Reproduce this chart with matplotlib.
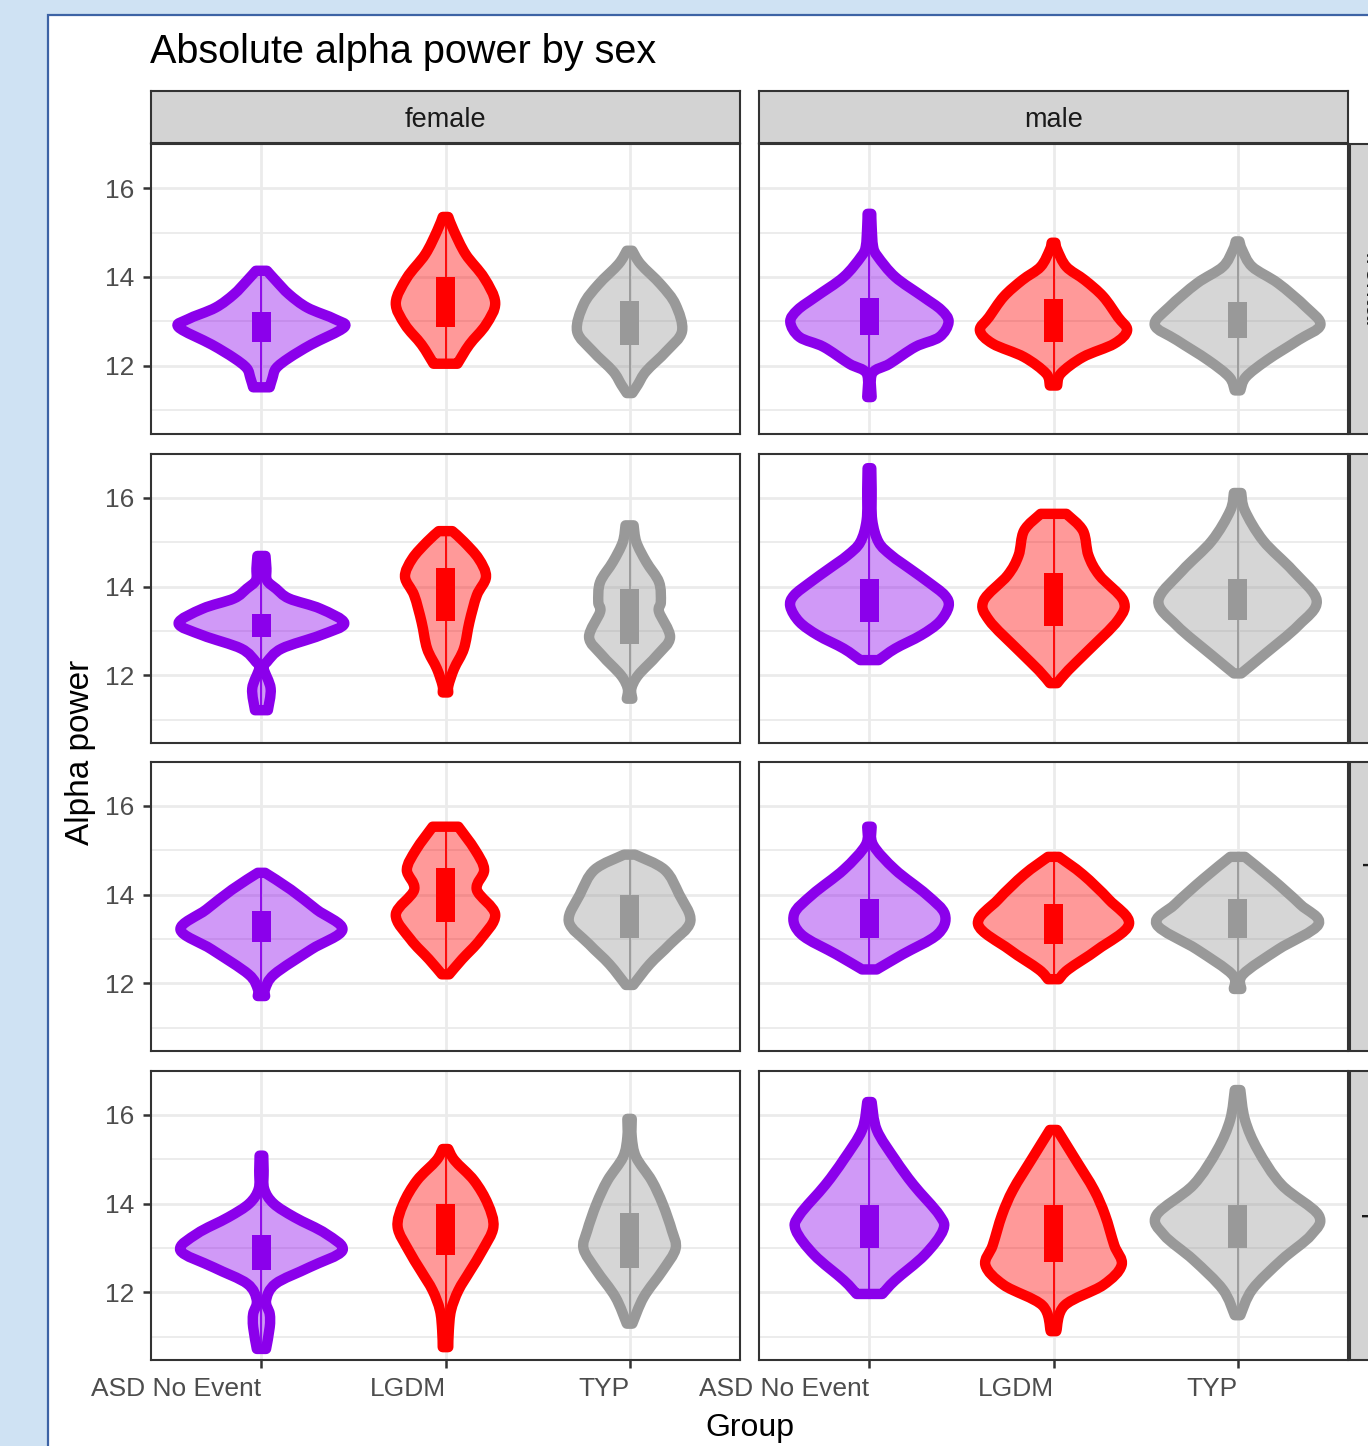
import matplotlib.pyplot as plt
import numpy as np
from matplotlib.colors import to_rgba
from matplotlib.patches import PathPatch, Rectangle
from matplotlib.path import Path

plt.rcParams["font.family"] = ["Liberation Sans", "DejaVu Sans"]

W, H = 1368, 1446  # output size in pixels (dpi 100)

groups = ["ASD No Event", "LGDM", "TYP"]
sexes = ["female", "male"]
rows = ["frontal", "central", "parietal", "occipital"]
group_colors = ["#8B00EB", "#FF0000", "#999999"]
y_ticks = [12, 14, 16]
y_minor = [11, 13, 15]

# violin outlines: y levels and half widths (x units)
r1_female_y = [[11.52, 11.73, 11.95, 12.18, 12.48, 12.87, 13.05, 13.31, 13.61, 13.91, 14.14],
               [12.05, 12.48, 12.93, 13.42, 13.98, 14.51, 15.04, 15.35],
               [11.39, 11.58, 11.88, 12.33, 12.78, 13.38, 13.83, 14.29, 14.59]]
r1_female_w = [[0.045, 0.06, 0.08, 0.15, 0.27, 0.45, 0.40, 0.25, 0.15, 0.08, 0.03],
               [0.065, 0.13, 0.22, 0.27, 0.21, 0.11, 0.045, 0.015],
               [0.015, 0.045, 0.09, 0.20, 0.285, 0.25, 0.17, 0.06, 0.015]]
r1_female_box = [(12.53, 13.22), (12.87, 14.0), (12.48, 13.47)]

r1_male_y = [[11.3, 11.83, 12.05, 12.43, 12.65, 12.99, 13.26, 13.56, 14.0, 14.46, 14.68, 15.14, 15.42],
             [11.56, 11.83, 12.2, 12.5, 12.8, 13.1, 13.56, 13.93, 14.23, 14.61, 14.77],
             [11.45, 11.75, 12.13, 12.58, 12.92, 13.33, 13.86, 14.23, 14.61, 14.8]]
r1_male_w = [[0.012, 0.015, 0.11, 0.25, 0.38, 0.43, 0.39, 0.29, 0.14, 0.045, 0.02, 0.012, 0.01],
             [0.02, 0.04, 0.16, 0.33, 0.40, 0.35, 0.27, 0.17, 0.07, 0.02, 0.01],
             [0.015, 0.045, 0.16, 0.33, 0.45, 0.37, 0.22, 0.08, 0.025, 0.01]]
r1_male_box = [(12.69, 13.52), (12.53, 13.5), (12.62, 13.44)]

r2_female_y = [[11.21, 11.7, 12.15, 12.3, 12.6, 12.9, 13.17, 13.5, 13.73, 13.95, 14.14, 14.41, 14.69],
               [11.61, 11.77, 12.15, 12.6, 13.2, 13.8, 14.22, 14.63, 15.01, 15.25],
               [11.47, 11.7, 12.0, 12.45, 12.86, 13.43, 13.65, 14.1, 14.56, 15.0, 15.38]]
r2_female_w = [[0.035, 0.05, 0.012, 0.03, 0.11, 0.32, 0.45, 0.32, 0.15, 0.08, 0.03, 0.027, 0.022],
               [0.015, 0.016, 0.047, 0.10, 0.13, 0.17, 0.22, 0.18, 0.10, 0.037],
               [0.015, 0.01, 0.047, 0.15, 0.22, 0.16, 0.17, 0.16, 0.09, 0.037, 0.022]]
r2_female_box = [(12.86, 13.39), (13.22, 14.41), (12.71, 13.95)]

r2_male_y = [[12.34, 12.6, 12.9, 13.2, 13.55, 13.8, 14.1, 14.4, 14.7, 15.0, 15.5, 16.2, 16.67],
             [11.82, 12.11, 12.56, 13.24, 13.68, 14.25, 14.7, 15.26, 15.64],
             [12.04, 12.45, 13.12, 13.68, 14.36, 15.03, 15.71, 16.11]]
r2_male_w = [[0.05, 0.14, 0.28, 0.38, 0.43, 0.41, 0.32, 0.22, 0.12, 0.05, 0.015, 0.012, 0.01],
             [0.02, 0.08, 0.19, 0.35, 0.38, 0.25, 0.19, 0.16, 0.07],
             [0.02, 0.14, 0.33, 0.43, 0.30, 0.14, 0.04, 0.02]]
r2_male_box = [(13.19, 14.18), (13.12, 14.31), (13.24, 14.18)]

r3_female_y = [[11.71, 11.87, 12.2, 12.76, 13.21, 13.66, 14.11, 14.49],
               [12.2, 12.54, 12.99, 13.55, 14.11, 14.56, 15.01, 15.53],
               [11.96, 12.43, 12.88, 13.39, 14.0, 14.56, 14.9]]
r3_female_w = [[0.02, 0.02, 0.07, 0.27, 0.44, 0.30, 0.16, 0.02],
               [0.02, 0.09, 0.19, 0.27, 0.17, 0.21, 0.16, 0.07],
               [0.02, 0.11, 0.22, 0.33, 0.27, 0.19, 0.03]]
r3_female_box = [(12.94, 13.62), (13.39, 14.6), (13.03, 13.98)]

r3_male_y = [[12.31, 12.65, 13.1, 13.55, 14.0, 14.56, 15.12, 15.53],
             [12.09, 12.31, 12.76, 13.33, 13.89, 14.45, 14.85],
             [11.87, 12.2, 12.76, 13.33, 13.78, 14.34, 14.85]]
r3_male_w = [[0.04, 0.18, 0.37, 0.41, 0.31, 0.14, 0.02, 0.012],
             [0.03, 0.08, 0.24, 0.41, 0.30, 0.16, 0.03],
             [0.02, 0.03, 0.22, 0.44, 0.34, 0.19, 0.04]]
r3_male_box = [(13.03, 13.89), (12.88, 13.78), (13.03, 13.89)]

r4_female_y = [[10.72, 11.21, 11.51, 11.81, 12.19, 12.56, 12.94, 13.32, 13.69, 14.0, 14.33, 14.74, 15.08],
               [10.76, 11.14, 11.59, 12.04, 12.49, 12.94, 13.47, 13.99, 14.52, 14.97, 15.23],
               [11.29, 11.89, 12.49, 12.98, 13.39, 13.99, 14.52, 15.05, 15.5, 15.91]]
r4_female_w = [[0.025, 0.045, 0.045, 0.025, 0.077, 0.26, 0.44, 0.35, 0.18, 0.066, 0.015, 0.012, 0.01],
               [0.015, 0.018, 0.03, 0.07, 0.135, 0.20, 0.26, 0.23, 0.155, 0.05, 0.015],
               [0.015, 0.077, 0.18, 0.25, 0.23, 0.18, 0.12, 0.035, 0.012, 0.012]]
r4_female_box = [(12.5, 13.28), (12.85, 13.99), (12.54, 13.78)]

r4_male_y = [[11.96, 12.27, 12.84, 13.4, 13.74, 14.42, 14.99, 15.66, 16.29],
             [11.12, 11.7, 12.16, 12.61, 13.06, 13.74, 14.31, 14.99, 15.66],
             [11.48, 12.06, 12.73, 13.29, 13.74, 14.42, 15.21, 15.89, 16.56]]
r4_male_w = [[0.07, 0.14, 0.30, 0.40, 0.38, 0.24, 0.14, 0.04, 0.012],
             [0.015, 0.06, 0.27, 0.37, 0.33, 0.28, 0.22, 0.12, 0.02],
             [0.015, 0.08, 0.24, 0.40, 0.44, 0.24, 0.11, 0.04, 0.015]]
r4_male_box = [(12.99, 13.96), (12.67, 13.96), (12.99, 13.96)]

panels = {
    (0, 0): (r1_female_y, r1_female_w, r1_female_box),
    (0, 1): (r1_male_y, r1_male_w, r1_male_box),
    (1, 0): (r2_female_y, r2_female_w, r2_female_box),
    (1, 1): (r2_male_y, r2_male_w, r2_male_box),
    (2, 0): (r3_female_y, r3_female_w, r3_female_box),
    (2, 1): (r3_male_y, r3_male_w, r3_male_box),
    (3, 0): (r4_female_y, r4_female_w, r4_female_box),
    (3, 1): (r4_male_y, r4_male_w, r4_male_box),
}

# layout in pixels
col_x = [(151, 740), (759, 1348)]
row_y = [(144, 434), (454, 743), (762, 1051), (1071, 1360)]
strip_top = (91, 143)
strip_right = (1350, 1402)


def px_rect(x0, y0, x1, y1):
    return [x0 / W, 1 - y1 / H, (x1 - x0) / W, (y1 - y0) / H]


def smooth_side(pts, verts, codes, start):
    """Append a Catmull-Rom style bezier through pts to verts/codes."""
    P = np.asarray(pts, dtype=float)
    n = len(P)
    verts.append(P[0])
    codes.append(Path.MOVETO if start else Path.LINETO)
    for i in range(n - 1):
        p0 = P[max(i - 1, 0)]
        p1 = P[i]
        p2 = P[i + 1]
        p3 = P[min(i + 2, n - 1)]
        verts += [p1 + (p2 - p0) / 6, p2 - (p3 - p1) / 6, p2]
        codes += [Path.CURVE4] * 3


def violin_path(xc, ys, ws):
    right = [(xc + w, y) for y, w in zip(ys, ws)]
    left = [(xc - w, y) for y, w in zip(ys, ws)][::-1]
    verts, codes = [], []
    smooth_side(right, verts, codes, True)
    smooth_side(left, verts, codes, False)
    verts.append(right[0])
    codes.append(Path.CLOSEPOLY)
    return Path(verts, codes)


fig = plt.figure(figsize=(W / 100, H / 100), dpi=100, facecolor="#CFE2F3")
fig.add_artist(Rectangle((48 / W, -0.05), 1.2, 1.05 - 15 / H, transform=fig.transFigure,
                         facecolor="white", edgecolor="#3D63A5", lw=1.6, zorder=0))

fig.text(150 / W, 1 - 63 / H, "Absolute alpha power by sex", fontsize=28.5,
         color="black", ha="left", va="baseline")

for r in range(4):
    for c in range(2):
        ax = fig.add_axes(px_rect(col_x[c][0], row_y[r][0], col_x[c][1], row_y[r][1]))
        ax.set_xlim(0.4, 3.6)
        ax.set_ylim(10.47, 16.99)
        ax.set_xticks([1, 2, 3])
        ax.set_xticklabels(groups)
        ax.set_yticks(y_ticks)
        ax.set_yticklabels([str(t) for t in y_ticks])
        ax.set_yticks(y_minor, minor=True)
        ax.set_axisbelow(True)
        ax.grid(which="major", color="#EBEBEB", lw=2.0)
        ax.grid(which="minor", axis="y", color="#EBEBEB", lw=1.3)
        ax.tick_params(which="minor", length=0)
        ax.tick_params(which="major", length=6, width=1.8, color="#333333",
                       labelsize=19, labelcolor="#4D4D4D")
        ax.tick_params(axis="y", pad=6)
        ax.tick_params(axis="x", pad=6)
        for lab in ax.get_xticklabels():
            lab.set_horizontalalignment("right")
        if c == 1:
            ax.tick_params(axis="y", left=False, labelleft=False)
        if r < 3:
            ax.tick_params(axis="x", bottom=False, labelbottom=False)
        for sp in ax.spines.values():
            sp.set_color("#333333")
            sp.set_linewidth(1.5)

        ys_all, ws_all, boxes = panels[(r, c)]
        for g in range(3):
            xc = g + 1
            col = group_colors[g]
            ys, ws = ys_all[g], ws_all[g]
            ax.add_patch(PathPatch(violin_path(xc, ys, ws), facecolor=to_rgba(col, 0.4),
                                   edgecolor=col, lw=7.5, joinstyle="round",
                                   capstyle="round", zorder=2))
            ax.plot([xc, xc], [min(ys), max(ys)], color=col, lw=1.3, zorder=3)
            q1, q3 = boxes[g]
            ax.add_patch(Rectangle((xc - 0.05, q1), 0.1, q3 - q1, facecolor=col,
                                   edgecolor="none", zorder=4))

# facet strips
for c, sex in enumerate(sexes):
    sax = fig.add_axes(px_rect(col_x[c][0], strip_top[0], col_x[c][1], strip_top[1]))
    sax.set_facecolor("#D3D3D3")
    sax.set_xticks([])
    sax.set_yticks([])
    for sp in sax.spines.values():
        sp.set_color("#333333")
        sp.set_linewidth(1.5)
    sax.text(0.5, 0.44, sex, transform=sax.transAxes, ha="center", va="center",
             fontsize=19.5, color="#1A1A1A")

# row strips, cut off by the right edge as in the screenshot
for r, name in enumerate(rows):
    x0, x1 = strip_right
    y0, y1 = row_y[r]
    fig.add_artist(Rectangle((x0 / W, 1 - y1 / H), (x1 - x0) / W, (y1 - y0) / H,
                             transform=fig.transFigure, facecolor="#D3D3D3",
                             edgecolor="#333333", lw=1.5))
    fig.text((x0 + 23) / W, 1 - (y0 + y1) / 2 / H, name, rotation=-90, fontsize=19.5,
             color="#1A1A1A", ha="center", va="center")

fig.text(80 / W, 1 - 752 / H, "Alpha power", rotation=90, fontsize=24,
         ha="center", va="center")
fig.text(749.5 / W, 1 - 1436 / H, "Group", fontsize=23, ha="center", va="baseline")

fig.savefig("out.png", dpi=100, facecolor=fig.get_facecolor())
